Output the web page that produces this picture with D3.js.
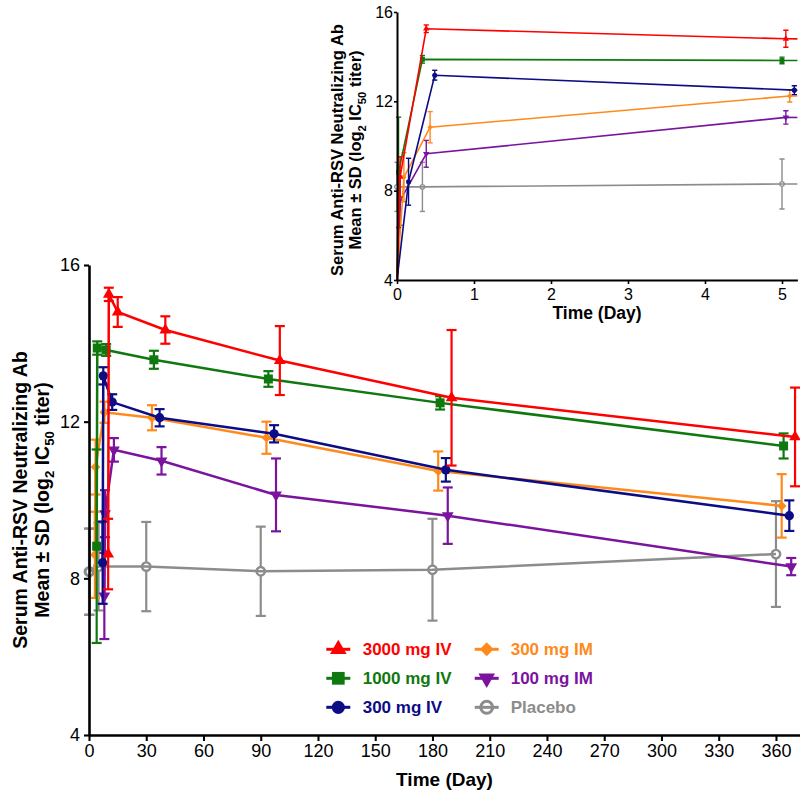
<!DOCTYPE html>
<html><head><meta charset="utf-8">
<script src="https://cdn.jsdelivr.net/npm/d3@7"></script>
<style>body{margin:0;background:#fff} text{font-family:"Liberation Sans",Arial,Helvetica,sans-serif}</style>
</head><body><svg id="c" width="800" height="800"></svg>
<script>
// ---------------- data ----------------
const seriesNames = ["3000 mg IV","1000 mg IV","300 mg IV","300 mg IM","100 mg IM","Placebo"];
const seriesColors = ["#ff0000","#0f780f","#0c0c85","#ff8a1c","#7a149e","#8c8c8c"];
const seriesSymbols = ["triangle","square","circle","diamond","triangleDown","openCircle"];
const mainDayOffsets = [10,4,7,3,8,0];       // horizontal nudge used in the main panel (days)
const insetPredose = [4,4,4,4,4,null];         // pre-dose value shown at day 0 in the inset only

const days3000IV = [0.04, 0.38, 5.05, 30, 90, 180, 360];
const mean3000IV = [8.62, 15.25, 14.80, 14.34, 13.56, 12.61, 11.61];
const sd3000IV   = [0.90, 0.17, 0.38, 0.35, 0.88, 1.73, 1.26];

const days1000IV = [0.02, 0.33, 5.0, 30, 90, 180, 360];
const mean1000IV = [8.82, 13.88, 13.83, 13.58, 13.09, 12.48, 11.38];
const sd1000IV   = [2.47, 0.17, 0.15, 0.23, 0.20, 0.17, 0.32];

const days300IV = [0.15, 0.49, 5.16, 30, 90, 180, 360];
const mean300IV = [8.40, 13.17, 12.50, 12.10, 11.69, 10.77, 9.60];
const sd300IV   = [1.05, 0.22, 0.20, 0.22, 0.22, 0.30, 0.39];

const days300IM = [0.09, 0.43, 5.1, 30, 90, 180, 360];
const mean300IM = [8.60, 10.84, 12.24, 12.10, 11.59, 10.74, 9.85];
const sd300IM   = [1.10, 0.70, 0.27, 0.32, 0.41, 0.50, 0.81];

const days100IM = [0.04, 0.38, 5.05, 30, 90, 180, 360];
const mean100IM = [7.55, 9.65, 11.28, 11.00, 10.13, 9.60, 8.30];
const sd100IM   = [1.10, 0.60, 0.30, 0.35, 0.93, 0.72, 0.22];

const daysPlacebo = [0, 0.33, 5.0, 30, 90, 180, 360];
const meanPlacebo = [8.17, 8.17, 8.30, 8.30, 8.18, 8.22, 8.62];
const sdPlacebo   = [1.10, 1.10, 1.12, 1.14, 1.14, 1.30, 1.35];

const seriesDays  = [days3000IV, days1000IV, days300IV, days300IM, days100IM, daysPlacebo];
const seriesMeans = [mean3000IV, mean1000IV, mean300IV, mean300IM, mean100IM, meanPlacebo];
const seriesSDs   = [sd3000IV, sd1000IV, sd300IV, sd300IM, sd100IM, sdPlacebo];

const yTicks = [4, 8, 12, 16];
const mainXTicks = [0,30,60,90,120,150,180,210,240,270,300,330,360];
const insetXTicks = [0,1,2,3,4,5];
const xTitle = "Time (Day)";
const yTitleLine1 = "Serum Anti-RSV Neutralizing Ab";

// ---------------- drawing ----------------
const svg = d3.select("#c");
const series = seriesNames.map((name, i) => ({
  name, i, color: seriesColors[i], symbol: seriesSymbols[i],
  pts: seriesDays[i].map((d, k) => ({day: d, v: seriesMeans[i][k], sd: seriesSDs[i][k]}))
}));

function symPath(type, size) {
  const t = (type === "triangle" || type === "triangleDown") ? d3.symbolTriangle
          : (type === "square" || type === "diamond") ? d3.symbolSquare : d3.symbolCircle;
  return d3.symbol(t, size)();
}
function symRot(type) { return type === "triangleDown" ? 180 : type === "diamond" ? 45 : 0; }
const baseSize = {triangle: 60, triangleDown: 60, square: 81, diamond: 48, circle: 68, openCircle: 56};

function drawMarker(g, type, x, y, scale, color, sw) {
  const open = type === "openCircle";
  g.append("path").attr("d", symPath(type, baseSize[type] * scale))
    .attr("transform", `translate(${x},${y}) rotate(${symRot(type)})`)
    .attr("fill", open ? "none" : color)
    .attr("stroke", open ? color : "none")
    .attr("stroke-width", sw);
}

function drawPanel(g, xs, ys, opts) {
  const order = [5, 4, 3, 2, 1, 0];
  order.forEach(i => {
    const s = series[i];
    let pts = s.pts.map(p => ({x: xs(p.day + opts.offset(i)), y: ys(p.v), lo: ys(p.v - p.sd), hi: ys(p.v + p.sd)}));
    const gs = g.append("g");
    let linePts = pts.slice();
    if (opts.predose && insetPredose[i] !== null) linePts = [{x: xs(0), y: ys(insetPredose[i])}].concat(linePts);
    gs.append("path")
      .attr("d", d3.line().x(d => d.x).y(d => d.y)(linePts))
      .attr("fill", "none").attr("stroke", s.color).attr("stroke-width", opts.lw);
    const gap = s.symbol === "openCircle" ? opts.gap : 0;
    pts.forEach(p => {
      [[p.y - gap, p.hi], [p.y + gap, p.lo]].forEach(([a, b]) => {
        gs.append("line").attr("x1", p.x).attr("x2", p.x).attr("y1", a).attr("y2", b)
          .attr("stroke", s.color).attr("stroke-width", opts.ew);
        gs.append("line").attr("x1", p.x - opts.cap).attr("x2", p.x + opts.cap).attr("y1", b).attr("y2", b)
          .attr("stroke", s.color).attr("stroke-width", opts.ew);
      });
    });
    pts.forEach(p => drawMarker(gs, s.symbol, p.x, p.y, opts.ms, s.color, opts.osw));
  });
}

function styleAxis(g, w, fs) {
  g.select(".domain").attr("stroke", "#000").attr("stroke-width", w);
  g.selectAll(".tick line").attr("stroke", "#000").attr("stroke-width", w * 0.8);
  g.selectAll(".tick text").attr("font-size", fs).attr("fill", "#000")
    .attr("font-family", '"Liberation Sans",Arial,sans-serif');
}

function yTitle(cx, cy, fs, sep) {
  const g = svg.append("g").attr("transform", `translate(${cx},${cy}) rotate(-90)`);
  g.append("text").attr("text-anchor", "middle").attr("y", -sep / 2 + 0.35 * fs)
    .attr("font-size", fs).attr("font-weight", "bold").text(yTitleLine1);
  const t2 = g.append("text").attr("text-anchor", "middle").attr("y", sep / 2 + 0.35 * fs)
    .attr("font-size", fs).attr("font-weight", "bold");
  const sub = fs * 0.68, sh = fs * 0.28;
  t2.append("tspan").text("Mean \u00B1 SD (log");
  t2.append("tspan").attr("font-size", sub).attr("dy", sh).text("2");
  t2.append("tspan").attr("dy", -sh).text(" IC");
  t2.append("tspan").attr("font-size", sub).attr("dy", sh).text("50");
  t2.append("tspan").attr("dy", -sh).text(" titer)");
}

const intFmt = d3.format("d");

// ---- main panel ----
const xMain = d3.scaleLinear().domain([0, 372.6]).range([89, 800]);
const yMain = d3.scaleLinear().domain([4, 16]).range([735, 265]);

const gMain = svg.append("g");
drawPanel(gMain, xMain, yMain, {offset: i => mainDayOffsets[i], predose: false,
  lw: 2.5, ew: 2.2, cap: 5, gap: 4.8, ms: 1, osw: 2.4});

const axMainX = svg.append("g").attr("transform", "translate(0,735)")
  .call(d3.axisBottom(xMain).tickValues(mainXTicks).tickFormat(intFmt).tickSize(6).tickSizeOuter(0).tickPadding(3));
styleAxis(axMainX, 2.6, 18);
const axMainY = svg.append("g").attr("transform", "translate(89,0)")
  .call(d3.axisLeft(yMain).tickValues(yTicks).tickFormat(intFmt).tickSize(5).tickSizeOuter(0).tickPadding(4));
styleAxis(axMainY, 2.6, 18);

svg.append("text").attr("x", 444.5).attr("y", 786).attr("text-anchor", "middle")
  .attr("font-size", 19).attr("font-weight", "bold").text(xTitle);
yTitle(31, 500, 19.5, 22);

// legend
const legCols = [{sx: 338.3, tx: 362.7}, {sx: 486.7, tx: 510.7}];
const legRows = [649.3, 678.3, 707.3];
series.forEach((s, i) => {
  const c = legCols[Math.floor(i / 3)], y = legRows[i % 3];
  const g = svg.append("g");
  g.append("line").attr("x1", c.sx - 12).attr("x2", c.sx + 12).attr("y1", y).attr("y2", y)
    .attr("stroke", s.color).attr("stroke-width", 3);
  drawMarker(g, s.symbol, c.sx, y, 2.0, s.color, 3);
  g.append("text").attr("x", c.tx).attr("y", y + 0.35 * 17).attr("font-size", 17)
    .attr("font-weight", "bold").attr("fill", s.color).text(s.name);
});

// ---- inset panel ----
const xIn = d3.scaleLinear().domain([0, 5.2]).range([397, 797.4]);
const yIn = d3.scaleLinear().domain([4, 16]).range([280, 12]);
svg.append("clipPath").attr("id", "inclip").append("rect")
  .attr("x", 380).attr("y", 0).attr("width", 417.4).attr("height", 282);
const gIn = svg.append("g").attr("clip-path", "url(#inclip)");
drawPanel(gIn, xIn, yIn, {offset: () => 0, predose: true,
  lw: 1.6, ew: 1.4, cap: 2.6, gap: 2.7, ms: 0.3, osw: 1.3});

const axInX = svg.append("g").attr("transform", "translate(0,280)")
  .call(d3.axisBottom(xIn).tickValues(insetXTicks).tickFormat(intFmt).tickSize(4).tickSizeOuter(0).tickPadding(5));
styleAxis(axInX, 2, 16);
const axInY = svg.append("g").attr("transform", "translate(397,0)")
  .call(d3.axisLeft(yIn).tickValues(yTicks).tickFormat(intFmt).tickSize(3).tickSizeOuter(0).tickPadding(1));
styleAxis(axInY, 2, 16);

svg.append("text").attr("x", 597).attr("y", 319).attr("text-anchor", "middle")
  .attr("font-size", 17.5).attr("font-weight", "bold").text(xTitle);
yTitle(346, 150, 16.5, 18.5);
</script></body></html>
